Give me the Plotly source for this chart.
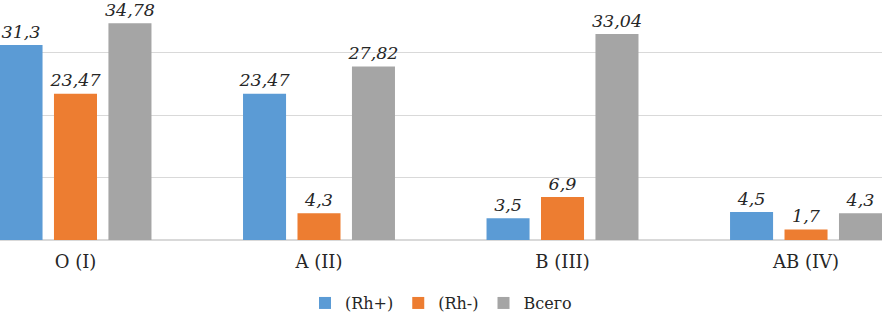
import plotly.graph_objects as go

categories = ["O (I)", "A (II)", "B (III)", "AB (IV)"]
rh_pos = [31.3, 23.47, 3.5, 4.5]
rh_neg = [23.47, 4.3, 6.9, 1.7]
total = [34.78, 27.82, 33.04, 4.3]
series_names = ["(Rh+)", "(Rh-)", "Всего"]
colors = ["#5B9BD5", "#ED7D31", "#A5A5A5"]

SERIF = "DejaVu Serif"

def fmt(v):
    return ("%g" % v).replace(".", ",")

fig = go.Figure()
for i, (name, vals, col) in enumerate(zip(series_names, [rh_pos, rh_neg, total], colors)):
    fig.add_trace(go.Bar(
        x=categories, y=vals, name=name, marker_color=col,
        marker_line_width=0, offsetgroup=str(i),
    ))
for i, vals in enumerate([rh_pos, rh_neg, total]):
    fig.add_trace(go.Scatter(
        x=categories, y=vals, mode="markers+text", offsetgroup=str(i),
        marker=dict(size=3, opacity=0), showlegend=False, hoverinfo="skip",
        text=[fmt(v) for v in vals], textposition="top center",
        textfont=dict(family=SERIF, size=17.5, color="#262626", style="italic"),
        cliponaxis=False,
    ))

fig.update_layout(
    width=882, height=318,
    margin=dict(l=0, r=0, t=0, b=78),
    paper_bgcolor="white", plot_bgcolor="white",
    barmode="group", bargap=0.329, bargroupgap=0.21,
    scattermode="group", scattergap=0.329,
    font=dict(family=SERIF, color="#262626"),
    showlegend=True,
    legend=dict(orientation="h", xanchor="center", x=0.5, yref="container",
                y=0.047, yanchor="middle", font=dict(size=16, family=SERIF, color="#262626"),
                itemwidth=30, tracegroupgap=0),
    xaxis=dict(range=[-0.31, 3.312], showgrid=False, ticks="", showline=False,
               tickfont=dict(size=18, family=SERIF, color="#262626"),
               ticklabelstandoff=9),
    yaxis=dict(range=[0, 38.5], dtick=10, showgrid=True, gridcolor="#D9D9D9", gridwidth=1,
               zeroline=True, zerolinecolor="#D9D9D9", zerolinewidth=1.5,
               showticklabels=False),
)
fig.write_html("out.html", post_script="document.body.style.margin='0px';",
               config={"displayModeBar": False})
